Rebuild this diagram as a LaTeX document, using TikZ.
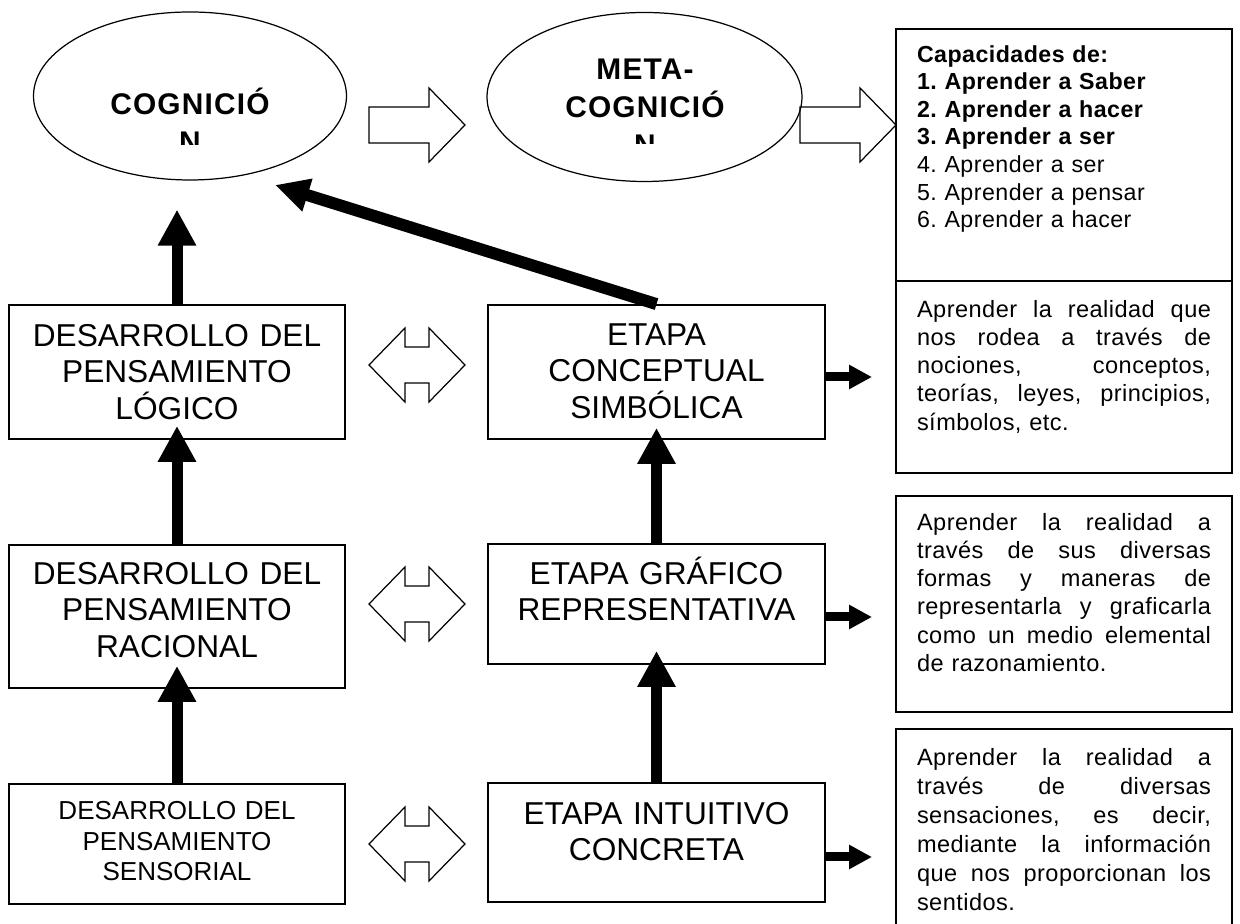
\documentclass[tikz,border=0pt]{standalone}
\usepackage{fontspec}
\setmainfont{Liberation Sans}
\newfontfamily\titlefont{Liberation Sans}[LetterSpace=4]
\newfontfamily\sidefont{Liberation Sans}[LetterSpace=2]
\usetikzlibrary{shapes.geometric,arrows.meta}
\newcommand{\jline}[1]{{\spaceskip=0pt\xspaceskip=0pt\makebox[5.88cm][s]{#1}}}
\frenchspacing
\begin{document}
\begin{tikzpicture}[scale=1,
        box/.style={draw, line width=1pt, inner sep=0pt},
        bigtext/.style={anchor=base, inner sep=0pt, text width=6.5cm, align=center, font=\fontsize{18}{20.9}\selectfont},
        smalltext/.style={anchor=base, inner sep=0pt, text width=6.5cm, align=center, font=\fontsize{14.8}{17.6}\selectfont},
        sidetext/.style={anchor=base, inner sep=0pt, text width=5.88cm, align=left, font=\sidefont\fontsize{13.4}{16.1}\selectfont},
        titletext/.style={anchor=base, inner sep=0pt, text width=6cm, align=center, font=\titlefont\bfseries\fontsize{17}{21.5}\selectfont},
        hollow/.style={line width=0.7pt},
        uparrow/.style={-{Triangle[length=0.72cm,width=0.72cm]}, line width=0.22cm},
        diagarrow/.style={-{Triangle[length=0.68cm,width=0.64cm]}, line width=0.24cm},
        sidearrow/.style={-{Triangle[length=0.46cm,width=0.46cm]}, line width=0.18cm}]
        \useasboundingbox (0,0) rectangle (24.8,18.48);

        \node[ellipse, draw, hollow, minimum width=6.26cm, minimum height=3.36cm] (cog) at (3.80,16.56) {};
        \node[ellipse, draw, hollow, minimum width=6.30cm, minimum height=3.38cm] (meta) at (12.89,16.54) {};
        \begin{scope}
            \clip (0.5,15.58) rectangle (7.2,18.4);
            \node[titletext] (cogt) at (3.80,16.18) {COGNICIÓ\\N};
        \end{scope}
        \begin{scope}
            \clip (9.6,15.6) rectangle (16.2,18.4);
            \node[titletext] (metat) at (12.90,16.88) {META-\\COGNICIÓ\\N};
        \end{scope}
        \foreach \x in {7.38,16.0}
            \draw[hollow] (\x,16.34) -- ++(1.2,0) -- ++(0,0.38) -- ++(0.72,-0.74) -- ++(-0.72,-0.74) -- ++(0,0.38) -- ++(-1.2,0) -- cycle;

        \node[box, minimum width=6.72cm, minimum height=2.68cm] (l1) at (3.54,11.04) {};
        \node[box, minimum width=6.72cm, minimum height=2.86cm] (l2) at (3.54,6.15) {};
        \node[box, minimum width=6.72cm, minimum height=2.40cm] (l3) at (3.54,1.60) {};
        \node[box, minimum width=6.74cm, minimum height=2.68cm] (m1) at (13.13,11.04) {};
        \node[box, minimum width=6.74cm, minimum height=2.40cm] (m2) at (13.13,6.40) {};
        \node[box, minimum width=6.74cm, minimum height=2.38cm] (m3) at (13.13,1.63) {};
        \node[box, minimum width=6.72cm, minimum height=5.04cm] (r1) at (21.28,15.38) {};
        \node[box, minimum width=6.72cm, minimum height=3.84cm] (r2) at (21.28,10.94) {};
        \node[box, minimum width=6.72cm, minimum height=4.32cm] (r3) at (21.28,6.40) {};
        \node[box, minimum width=6.72cm, minimum height=5.40cm] (r4) at (21.28,1.20) {};

        \node[bigtext] (l1t) at ([yshift=-0.84cm]l1.north) {DESARROLLO DEL\\PENSAMIENTO\\LÓGICO};
        \node[bigtext] (l2t) at ([yshift=-0.80cm]l2.north) {DESARROLLO DEL\\PENSAMIENTO\\RACIONAL};
        \node[smalltext] (l3t) at ([yshift=-0.72cm]l3.north) {DESARROLLO DEL\\PENSAMIENTO\\SENSORIAL};
        \node[bigtext] (m1t) at ([yshift=-0.82cm]m1.north) {ETAPA\\CONCEPTUAL\\SIMBÓLICA};
        \node[bigtext] (m2t) at ([yshift=-0.82cm]m2.north) {ETAPA GRÁFICO\\REPRESENTATIVA};
        \node[bigtext] (m3t) at ([yshift=-0.84cm]m3.north) {ETAPA INTUITIVO\\CONCRETA};

        \node[sidetext, font=\sidefont\fontsize{13.2}{15.7}\selectfont] (r1t) at ([yshift=-0.68cm]r1.north) {\textbf{Capacidades de:}\\\textbf{1. Aprender a Saber}\\\textbf{2. Aprender a hacer}\\\textbf{3. Aprender a ser}\\4. Aprender a ser\\5. Aprender a pensar\\6. Aprender a hacer};
        \node[sidetext] (r2t) at ([yshift=-0.74cm]r2.north) {\jline{Aprender la realidad que}\\\jline{nos rodea a través de}\\\jline{nociones, conceptos,}\\\jline{teorías, leyes, principios,}\\símbolos, etc.};
        \node[sidetext] (r3t) at ([yshift=-0.70cm]r3.north) {\jline{Aprender la realidad a}\\\jline{través de sus diversas}\\\jline{formas y maneras de}\\\jline{representarla y graficarla}\\\jline{como un medio elemental}\\de razonamiento.};
        \node[sidetext, font=\sidefont\fontsize{13.4}{16.5}\selectfont] (r4t) at ([yshift=-0.74cm]r4.north) {\jline{Aprender la realidad a}\\\jline{través de diversas}\\\jline{sensaciones, es decir,}\\\jline{mediante la información}\\\jline{que nos proporcionan los}\\sentidos.};

        \foreach \y in {11.18,6.40,1.60}
            \draw[hollow] (7.38,\y) -- ++(0.72,0.74) -- ++(0,-0.38) -- ++(0.48,0) -- ++(0,0.38) -- ++(0.72,-0.74) -- ++(-0.72,-0.74) -- ++(0,0.38) -- ++(-0.48,0) -- ++(0,-0.38) -- cycle;

        \coordinate (dtip) at (5.50,14.78);
        \coordinate (t1) at (17.44,10.94);
        \coordinate (t2) at (17.44,6.14);
        \coordinate (t3) at (17.44,1.34);

        \draw[uparrow, shorten >=0.58cm] (l1.north) -- (l1.north |- cog.south);
        \draw[uparrow, shorten >=-0.28cm] (l2.north) -- (l1.south);
        \draw[uparrow, shorten >=-0.46cm] (l3.north) -- (l2.south);
        \draw[uparrow, shorten >=-0.24cm] (m2.north) -- (m1.south);
        \draw[uparrow, shorten >=-0.28cm] (m3.north) -- (m2.south);
        \draw[diagarrow] (m1.north) -- (dtip);
        \draw[sidearrow] (m1.east |- t1) -- (t1);
        \draw[sidearrow] (m2.east |- t2) -- (t2);
        \draw[sidearrow] (m3.east |- t3) -- (t3);
    \end{tikzpicture}
\end{document}
